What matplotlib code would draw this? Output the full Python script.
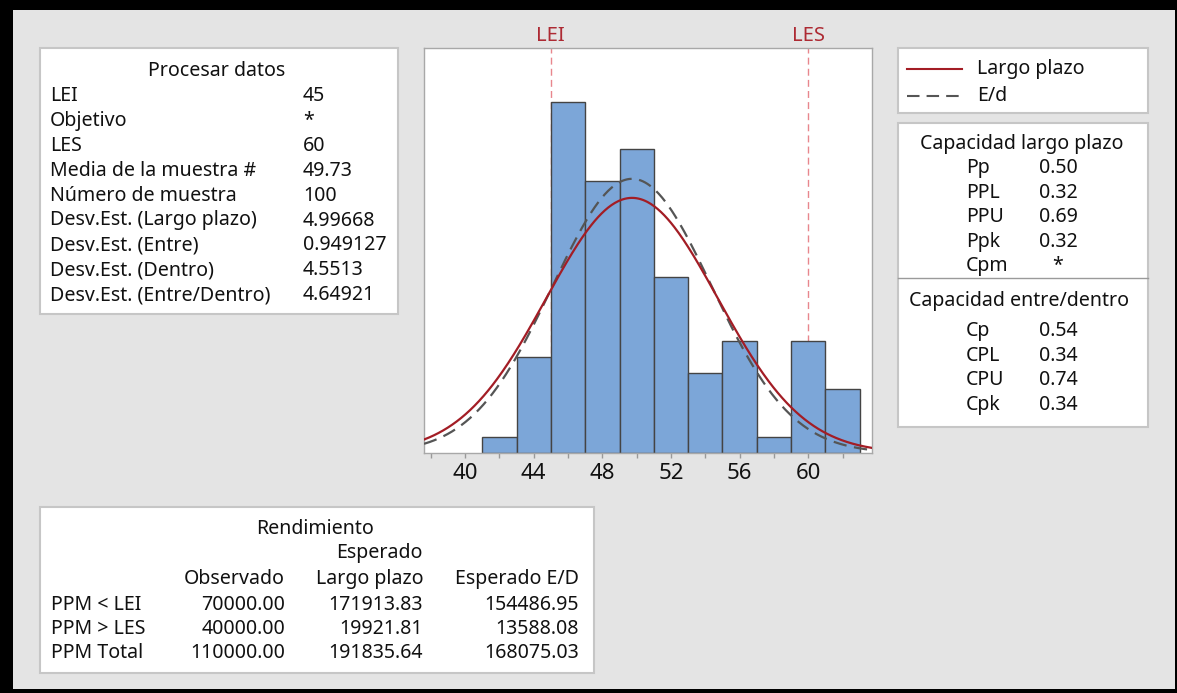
import numpy as np
import matplotlib
matplotlib.use('Agg')
import matplotlib.pyplot as plt
from matplotlib.patches import Rectangle

plt.rcParams['font.family'] = ['Noto Sans', 'DejaVu Sans']

# histogram data (bins of width 2, counts)
bin_edges = [41, 43, 45, 47, 49, 51, 53, 55, 57, 59, 61, 63]
counts = [1, 6, 22, 17, 19, 11, 5, 7, 1, 7, 4]
sample_mean = 49.73
sd_long = 4.99668
sd_within = 4.64921
n_samples = 100
lsl = 45
usl = 60

proc_labels = ['LEI', 'Objetivo', 'LES', 'Media de la muestra #', 'Número de muestra',
               'Desv.Est. (Largo plazo)', 'Desv.Est. (Entre)', 'Desv.Est. (Dentro)',
               'Desv.Est. (Entre/Dentro)']
proc_values = ['45', '*', '60', '49.73', '100', '4.99668', '0.949127', '4.5513', '4.64921']

cap_lp_labels = ['Pp', 'PPL', 'PPU', 'Ppk', 'Cpm']
cap_lp_values = ['0.50', '0.32', '0.69', '0.32', '*']
cap_ed_labels = ['Cp', 'CPL', 'CPU', 'Cpk']
cap_ed_values = ['0.54', '0.34', '0.74', '0.34']

yield_rows = ['PPM < LEI', 'PPM > LES', 'PPM Total']
yield_obs = ['70000.00', '40000.00', '110000.00']
yield_lp = ['171913.83', '19921.81', '191835.64']
yield_ed = ['154486.95', '13588.08', '168075.03']

W, H = 1177, 693
TXT = '#111111'
FS = 14.1
RED = '#a31d25'

fig = plt.figure(figsize=(W / 100, H / 100), dpi=100, facecolor='black')

# overlay axes in pixel coordinates for boxes and text
bg = fig.add_axes([0, 0, 1, 1])
bg.set_xlim(0, W)
bg.set_ylim(H, 0)
bg.axis('off')
bg.add_patch(Rectangle((13, 10), 1162, 679, facecolor='#e4e4e4', edgecolor='none'))


def box(x0, y0, x1, y1):
    bg.add_patch(Rectangle((x0, y0), x1 - x0, y1 - y0, facecolor='white',
                           edgecolor='#c6c6c6', linewidth=1.5))


def txt(x, y, s, ha='left', **kw):
    bg.text(x, y, s, ha=ha, va='center', fontsize=FS, color=TXT, **kw)


# Procesar datos
box(40, 48, 398, 314)
txt(217, 71, 'Procesar datos', ha='center')
for i, (lab, val) in enumerate(zip(proc_labels, proc_values)):
    y = 96 + i * 24.9
    txt(50, y, lab)
    txt(303, y, val)

# legend box
box(898, 48, 1148, 113)
bg.plot([907, 962], [69, 69], color=RED, lw=1.5)
bg.plot([907, 962], [96, 96], color='#555555', lw=1.5, linestyle=(0, (6, 3.4)))
txt(977, 69, 'Largo plazo')
txt(977, 96, 'E/d')

# capability box
box(898, 123, 1148, 427)
bg.plot([898, 1148], [278, 278], color='#9a9a9a', lw=1)
txt(1022, 144, 'Capacidad largo plazo', ha='center')
for i, (lab, val) in enumerate(zip(cap_lp_labels, cap_lp_values)):
    y = 168 + i * 24.6
    txt(966, y, lab)
    if val == '*':
        txt(1058, y, val, ha='center')
    else:
        txt(1039, y, val)
txt(1019, 301, 'Capacidad entre/dentro', ha='center')
for i, (lab, val) in enumerate(zip(cap_ed_labels, cap_ed_values)):
    y = 331 + i * 24.6
    txt(966, y, lab)
    txt(1039, y, val)

# Rendimiento box
box(40, 507, 594, 673)
txt(315, 529, 'Rendimiento', ha='center')
txt(423, 553, 'Esperado', ha='right')
txt(285, 579, 'Observado', ha='right')
txt(423, 579, 'Largo plazo', ha='right')
txt(579, 579, 'Esperado E/D', ha='right')
for i, lab in enumerate(yield_rows):
    y = 605 + i * 24.2
    txt(51, y, lab)
    txt(285, y, yield_obs[i], ha='right')
    txt(423, y, yield_lp[i], ha='right')
    txt(579, y, yield_ed[i], ha='right')

# histogram axes
ax_l, ax_r, ax_t, ax_b = 424, 872, 48, 453
ax = fig.add_axes([ax_l / W, (H - ax_b) / H, (ax_r - ax_l) / W, (ax_b - ax_t) / H])
ax.set_facecolor('white')
x_lo, x_hi = 37.61, 63.71
ax.set_xlim(x_lo, x_hi)
ax.set_ylim(0, 25.35)

edges = np.array(bin_edges)
ax.bar(edges[:-1], counts, width=np.diff(edges), align='edge', color='#7ca6d8',
       edgecolor='#444444', linewidth=1.0, zorder=2)

for spec in (lsl, usl):
    ax.axvline(spec, color='#e8868d', lw=1.0, linestyle=(0, (5, 3)), zorder=1)
ax.text(lsl, 1.004, 'LEI', transform=ax.get_xaxis_transform(), ha='center', va='bottom',
        color='#ad2a33', fontsize=14.5)
ax.text(usl, 1.004, 'LES', transform=ax.get_xaxis_transform(), ha='center', va='bottom',
        color='#ad2a33', fontsize=14.5)

xs = np.linspace(x_lo, x_hi, 400)
scale = n_samples * 2
pdf_lp = scale * np.exp(-0.5 * ((xs - sample_mean) / sd_long) ** 2) / (sd_long * np.sqrt(2 * np.pi))
pdf_ed = scale * np.exp(-0.5 * ((xs - sample_mean) / sd_within) ** 2) / (sd_within * np.sqrt(2 * np.pi))
ax.plot(xs, pdf_ed, color='#555555', lw=1.6, linestyle=(0, (6, 3.4)), zorder=3)
ax.plot(xs, pdf_lp, color=RED, lw=1.6, zorder=4)

ax.set_xticks([40, 44, 48, 52, 56, 60])
ax.set_xticks([38, 42, 46, 50, 54, 58, 62], minor=True)
ax.tick_params(axis='x', which='both', length=3.5, width=1, color='#999999',
               labelsize=16, labelcolor=TXT, pad=4)
ax.set_yticks([])
for sp in ax.spines.values():
    sp.set_color('#a8a8a8')
    sp.set_linewidth(1)

fig.savefig('out.png', dpi=100, facecolor='black')
